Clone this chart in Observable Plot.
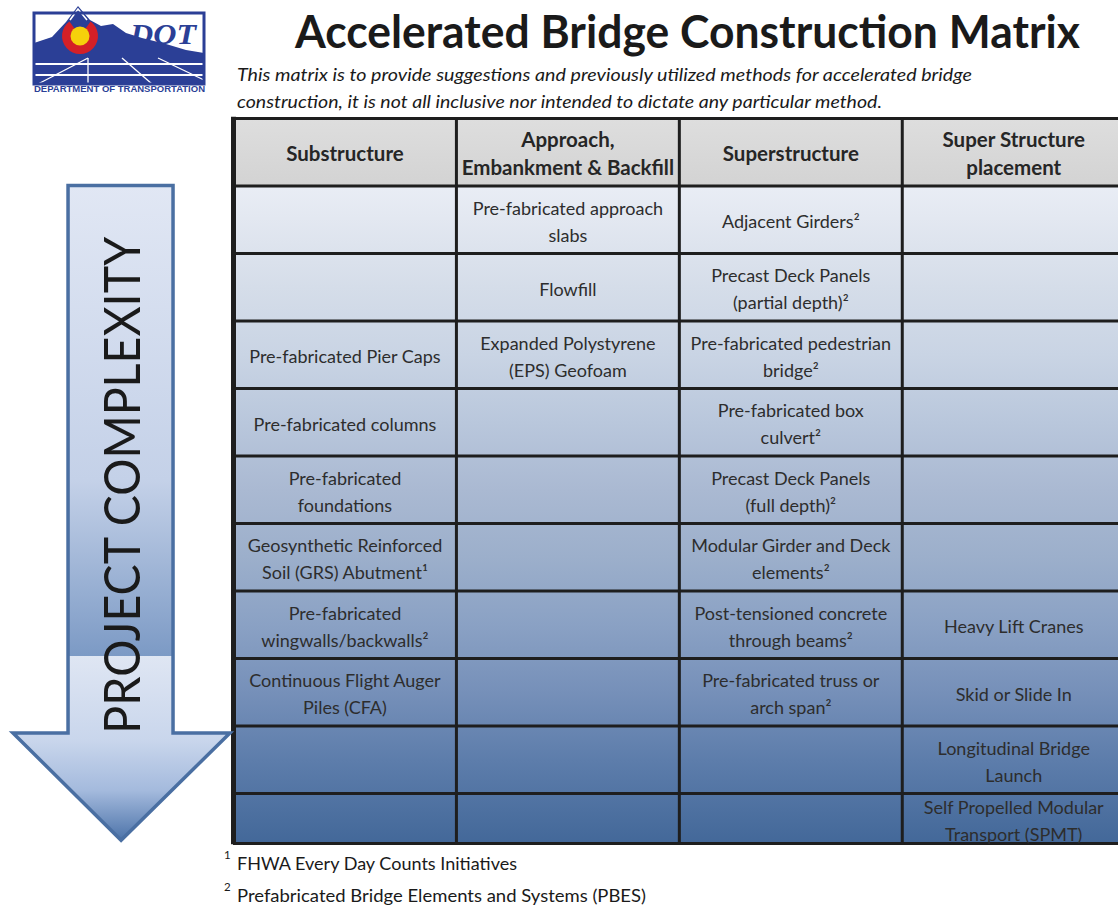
<!DOCTYPE html>
<html><head><meta charset="utf-8">
<script src="https://cdn.jsdelivr.net/npm/d3@7"></script>
<script src="https://cdn.jsdelivr.net/npm/@observablehq/plot@0.6"></script>
<style>
html,body{margin:0;padding:0;background:#fff;width:1118px;height:907px;overflow:hidden;}
#page{position:relative;width:1118px;height:907px;font-family:Lato,'Open Sans',sans-serif;}
#bg{position:absolute;left:0;top:0;}
#chart{position:absolute;left:0;top:110px;}
</style></head>
<body><div id="page"><svg id="bg" width="1118" height="907"></svg><div id="chart"></div></div>
<script>
// ---- chart content ----
const title = "Accelerated Bridge Construction Matrix";
const subtitleLines = [
  "This matrix is to provide suggestions and previously utilized methods for accelerated bridge",
  "construction, it is not all inclusive nor intended to dictate any particular method."
];
const columns = ["Substructure", "Approach,\nEmbankment & Backfill", "Superstructure", "Super Structure\nplacement"];
const substructure = ["", "", "Pre-fabricated Pier Caps", "Pre-fabricated columns", "Pre-fabricated\nfoundations",
  "Geosynthetic Reinforced\nSoil (GRS) Abutment\u00b9", "Pre-fabricated\nwingwalls/backwalls\u00b2",
  "Continuous Flight Auger\nPiles (CFA)", "", ""];
const approach = ["Pre-fabricated approach\nslabs", "Flowfill", "Expanded Polystyrene\n(EPS) Geofoam",
  "", "", "", "", "", "", ""];
const superstructure = ["Adjacent Girders\u00b2", "Precast Deck Panels\n(partial depth)\u00b2",
  "Pre-fabricated pedestrian\nbridge\u00b2", "Pre-fabricated box\nculvert\u00b2", "Precast Deck Panels\n(full depth)\u00b2",
  "Modular Girder and Deck\nelements\u00b2", "Post-tensioned concrete\nthrough beams\u00b2",
  "Pre-fabricated truss or\narch span\u00b2", "", ""];
const placement = ["", "", "", "", "", "", "Heavy Lift Cranes", "Skid or Slide In",
  "Longitudinal Bridge\nLaunch", "Self Propelled Modular\nTransport (SPMT)"];
const arrowLabel = "PROJECT COMPLEXITY";
const footnoteMarks = ["1", "2"];
const footnotes = ["FHWA Every Day Counts Initiatives", "Prefabricated Bridge Elements and Systems (PBES)"];

// ---- build table ----
const bodyCols = [substructure, approach, superstructure, placement];
const rowCount = substructure.length;          // 10 body rows, header is row 0
const bottomRow = rowCount + 0.74;             // last row is cut short in the original
const cells = [];
bodyCols.forEach((col, c) => col.forEach((t, r) => cells.push({c, r: r + 1, text: t})));
const rowTop = d => d.r, rowBot = d => Math.min(d.r + 1, bottomRow);

// decorative arrow outline, in table units (columns, rows)
const arrowShape = [[-0.740, 1], [-0.269, 1], [-0.269, 9.11], [-0.0135, 9.11], [-0.502, 10.70],
  [-0.987, 9.11], [-0.740, 9.11]];

function defsMark(index, {x, y}) {
  const g = d3.create("svg:g");
  const defs = g.append("defs");
  const bg = defs.append("linearGradient").attr("id", "bodyGrad").attr("gradientUnits", "userSpaceOnUse")
    .attr("x1", 0).attr("x2", 0).attr("y1", y(1)).attr("y2", y(bottomRow));
  [[0, "#e9edf5"], [0.05, "#e3e8f1"], [0.155, "#d5dde9"], [0.258, "#c9d4e4"], [0.36, "#b9c7dc"],
   [0.463, "#aab9d2"], [0.565, "#9cafcb"], [0.669, "#8aa1c4"], [0.77, "#7690b9"], [0.874, "#5d7dab"],
   [1, "#436899"]].forEach(([o, c]) => bg.append("stop").attr("offset", o).attr("stop-color", c));
  const hg = defs.append("linearGradient").attr("id", "headGrad").attr("x1", 0).attr("x2", 0).attr("y1", 0).attr("y2", 1);
  [[0, "#dedede"], [1, "#d3d3d3"]].forEach(([o, c]) => hg.append("stop").attr("offset", o).attr("stop-color", c));
  const ag = defs.append("linearGradient").attr("id", "arrowGrad").attr("x1", 0).attr("x2", 0).attr("y1", 0).attr("y2", 1);
  [[0, "#e1e7f4"], [0.45, "#c4d1e8"], [0.718, "#7c9ac5"], [0.7181, "#dfe6f3"], [0.847, "#c9d6ec"],
   [0.924, "#a4badd"], [1, "#4c73a9"]].forEach(([o, c]) => ag.append("stop").attr("offset", o).attr("stop-color", c));
  return g.node();
}

function arrowMark(index, {x, y}) {
  const g = d3.create("svg:g");
  const pts = arrowShape.map(([u, v]) => [x(u), y(v)]);
  g.append("path").attr("d", "M" + pts.map(p => p.join(",")).join("L") + "Z")
    .attr("fill", "url(#arrowGrad)").attr("stroke", "#4a6fa2").attr("stroke-width", 3.5)
    .attr("stroke-linejoin", "miter");
  g.append("text").attr("transform", `translate(${x(-0.5)},${y(5.44)}) rotate(-90)`)
    .attr("text-anchor", "middle").attr("dy", "0.36em")
    .attr("font-size", 51).attr("fill", "#1a1a1a")
    .attr("textLength", y(10.75) - y(3.39)).attr("lengthAdjust", "spacingAndGlyphs")
    .text(arrowLabel);
  return g.node();
}

const lineColor = "#1e1e1e";
const plot = Plot.plot({
  width: 1118, height: 740,
  marginLeft: 233, marginRight: 0, marginTop: 8, marginBottom: 7,
  x: {domain: [0, 3.97], range: [233, 1118], axis: null},
  y: {domain: [0, bottomRow], range: [8, 733], axis: null},
  style: {fontFamily: "Lato, 'Open Sans', sans-serif", background: "transparent"},
  marks: [
    defsMark,
    Plot.rect(columns, {x1: (d, i) => i, x2: (d, i) => i + 1, y1: 0, y2: 1, fill: "url(#headGrad)"}),
    Plot.rect(cells, {x1: d => d.c, x2: d => d.c + 1, y1: rowTop, y2: rowBot, fill: "url(#bodyGrad)"}),
    Plot.ruleY(d3.range(0, rowCount + 1).concat([bottomRow]), {x1: 0, x2: 4, stroke: lineColor, strokeWidth: 3}),
    Plot.ruleX([1, 2, 3], {y1: 0, y2: bottomRow, stroke: lineColor, strokeWidth: 3}),
    Plot.ruleX([0], {y1: -0.02, y2: bottomRow + 0.02, stroke: lineColor, strokeWidth: 5}),
    Plot.text(columns, {x: (d, i) => i + 0.5, y: 0.5, text: d => d, fontWeight: "bold", fontSize: 20.5,
      lineHeight: 1.37, fill: "#262626"}),
    Plot.text(cells.filter(d => d.text), {x: d => d.c + 0.5, y: d => (rowTop(d) + rowBot(d)) / 2, text: "text",
      fontSize: 18, lineHeight: 1.5, fill: "#2d2d2d"}),
    arrowMark
  ]
});
document.getElementById("chart").appendChild(plot);

// ---- header (logo, title, subtitle) and footnotes ----
const bgs = d3.select("#bg");
const blue = "#2b3f96";
const logo = bgs.append("g");
logo.append("rect").attr("x", 34).attr("y", 13).attr("width", 170).attr("height", 71).attr("fill", "#fff");
logo.append("path").attr("d", "M34,57 L34,43 L52,37 L66,22 L78,6 L90,20 L101,26 L113,24 L126,33 L142,38 L166,44 L186,50 L204,53 L204,57 Z")
  .attr("fill", blue);
logo.append("path").attr("d", "M70,20 L78,9 L87,20").attr("fill", "none").attr("stroke", "#fff").attr("stroke-width", 1.6);
logo.append("rect").attr("x", 34).attr("y", 57).attr("width", 170).attr("height", 27).attr("fill", blue);
[64, 75].forEach(yy => logo.append("line").attr("x1", 34).attr("x2", 204).attr("y1", yy).attr("y2", yy)
  .attr("stroke", "#fff").attr("stroke-width", 2));
[[88, 58, 38, 84], [88, 58, 88, 84], [122, 58, 152, 84], [158, 58, 204, 80]].forEach(([a, b, c, d]) =>
  logo.append("line").attr("x1", a).attr("y1", b).attr("x2", c).attr("y2", d).attr("stroke", "#fff").attr("stroke-width", 1.3));
logo.append("rect").attr("x", 34).attr("y", 13).attr("width", 170).attr("height", 71).attr("fill", "none")
  .attr("stroke", blue).attr("stroke-width", 3);
const cx = 80, cy = 36;
const arc = d3.arc()({innerRadius: 9, outerRadius: 18, startAngle: Math.PI * 0.2, endAngle: Math.PI * 1.8});
logo.append("path").attr("d", arc).attr("transform", `translate(${cx},${cy})`).attr("fill", "#d42027");
logo.append("circle").attr("cx", cx).attr("cy", cy).attr("r", 9.5).attr("fill", "#f6d10b");
logo.append("text").attr("x", 130).attr("y", 44).attr("font-family", "'Liberation Serif', serif")
  .attr("font-style", "italic").attr("font-weight", "bold").attr("font-size", 30).attr("fill", blue)
  .attr("textLength", 66).attr("lengthAdjust", "spacingAndGlyphs").text("DOT");
logo.append("text").attr("x", 34).attr("y", 91.5).attr("font-family", "'Liberation Sans', sans-serif")
  .attr("font-weight", "bold").attr("font-size", 8.6).attr("fill", blue)
  .attr("textLength", 171).attr("lengthAdjust", "spacingAndGlyphs").text("DEPARTMENT OF TRANSPORTATION");

bgs.append("text").attr("x", 687.5).attr("y", 48).attr("text-anchor", "middle")
  .attr("font-family", "Lato, sans-serif").attr("font-weight", "bold").attr("font-size", 46).attr("fill", "#1a1a1a")
  .attr("textLength", 785).attr("lengthAdjust", "spacingAndGlyphs").text(title);
const subLens = [735, 645];
subtitleLines.forEach((s, i) => bgs.append("text").attr("x", 237).attr("y", 81 + i * 27)
  .attr("font-family", "Lato, sans-serif").attr("font-style", "italic").attr("font-size", 17.5).attr("fill", "#1a1a1a")
  .attr("textLength", subLens[i]).attr("lengthAdjust", "spacingAndGlyphs").text(s));
const footLens = [280, 409];
footnotes.forEach((s, i) => {
  bgs.append("text").attr("x", 224).attr("y", 859 + i * 32).attr("font-family", "Lato, sans-serif")
    .attr("font-size", 11.5).attr("fill", "#1a1a1a").text(footnoteMarks[i]);
  bgs.append("text").attr("x", 237).attr("y", 870 + i * 32).attr("font-family", "Lato, sans-serif")
    .attr("font-size", 17.5).attr("fill", "#1a1a1a")
    .attr("textLength", footLens[i]).attr("lengthAdjust", "spacingAndGlyphs").text(s);
});
</script></body></html>
